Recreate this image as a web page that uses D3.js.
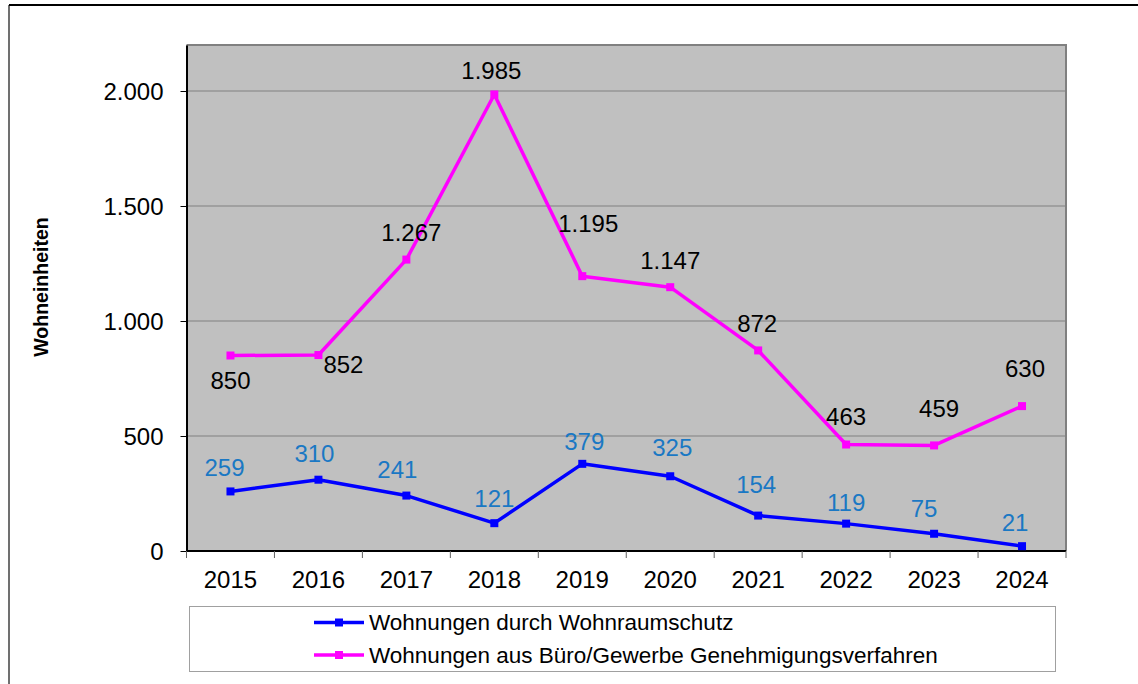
<!DOCTYPE html>
<html>
<head>
<meta charset="utf-8">
<script src="https://cdn.jsdelivr.net/npm/d3@7"></script>
<style>
    body { margin: 0; background: #fff; }
    text { font-family: Arial, "Liberation Sans", sans-serif; }
</style>
</head>
<body>
<svg id="chart" width="1138" height="684"></svg>
<script>
const years = ["2015", "2016", "2017", "2018", "2019", "2020", "2021", "2022", "2023", "2024"];
const wohnraumschutz = [259, 310, 241, 121, 379, 325, 154, 119, 75, 21];
const bueroGewerbe = [850, 852, 1267, 1985, 1195, 1147, 872, 463, 459, 630];
const yTicks = [0, 500, 1000, 1500, 2000];
const seriesNames = ["Wohnungen durch Wohnraumschutz", "Wohnungen aus Büro/Gewerbe Genehmigungsverfahren"];
const yTitle = "Wohneinheiten";

// label nudges (px) like the hand placed labels in the original
const blueLabelShift = [[-6, -24], [-4, -26], [-9, -26], [0, -25], [2, -22], [2, -29], [-2, -31], [0, -21], [-10, -25], [-7, -24]];
const pinkLabelShift = [[0, 25], [25, 10], [5, -27], [-3, -24], [6, -53], [0, -27], [-1, -27], [0, -28], [5, -37], [3, -38]];

const de = d3.formatLocale({ decimal: ",", thousands: ".", grouping: [3], currency: ["", " €"] });
const fmt = de.format(",d");

const svg = d3.select("#chart");

// outer frame (only left + top edge are in view)
svg.append("line").attr("x1", 9).attr("y1", 5).attr("x2", 9).attr("y2", 684)
    .attr("stroke", "#404040").attr("stroke-width", 1.5);
svg.append("line").attr("x1", 9).attr("y1", 5).attr("x2", 1138).attr("y2", 5)
    .attr("stroke", "#000").attr("stroke-width", 2);

const pLeft = 186.5, pRight = 1066, pTop = 45, pBottom = 551;

const x = d3.scaleBand().domain(years).range([pLeft, pRight]).padding(0);
const y = d3.scaleLinear().domain([0, 2200]).range([pBottom, pTop]);
const cx = d => x(d) + x.bandwidth() / 2;

// plot area
svg.append("rect").attr("x", pLeft).attr("y", pTop)
    .attr("width", pRight - pLeft).attr("height", pBottom - pTop)
    .attr("fill", "#c0c0c0");

// gridlines
svg.append("g").selectAll("line").data(yTicks.filter(t => t > 0)).enter().append("line")
    .attr("x1", pLeft).attr("x2", pRight)
    .attr("y1", d => y(d)).attr("y2", d => y(d))
    .attr("stroke", "#808080").attr("stroke-width", 1);

// top and right border
svg.append("path")
    .attr("d", "M" + pLeft + "," + pTop + "H" + pRight + "V" + pBottom)
    .attr("fill", "none").attr("stroke", "#808080").attr("stroke-width", 2);

// y axis
const yAxis = d3.axisLeft(y).tickValues(yTicks).tickFormat(fmt).tickSize(6).tickSizeOuter(0).tickPadding(17);
const yg = svg.append("g").attr("transform", "translate(" + pLeft + ",0)").call(yAxis);
yg.select(".domain").attr("stroke", "#000").attr("stroke-width", 2);
yg.selectAll(".tick line").attr("stroke", "#000");
yg.selectAll(".tick text").style("font-size", "24px").attr("fill", "#000").attr("dy", "0.35em");

// x axis, ticks on the category borders
const xg = svg.append("g").attr("transform", "translate(0," + pBottom + ")");
xg.append("line").attr("x1", pLeft).attr("x2", pRight).attr("stroke", "#000").attr("stroke-width", 2);
xg.selectAll(".xt").data(years.concat(["end"])).enter().append("line")
    .attr("class", "xt")
    .attr("x1", (d, i) => pLeft + i * x.bandwidth()).attr("x2", (d, i) => pLeft + i * x.bandwidth())
    .attr("y1", 0).attr("y2", 7)
    .attr("stroke", "#606060").attr("stroke-width", 1);
xg.selectAll(".xl").data(years).enter().append("text")
    .attr("class", "xl")
    .attr("x", d => cx(d)).attr("y", 37)
    .attr("text-anchor", "middle")
    .style("font-size", "24px")
    .text(d => d);

// y title
svg.append("text")
    .attr("transform", "translate(48,287) rotate(-90)")
    .attr("text-anchor", "middle")
    .style("font-size", "19.5px").style("font-weight", "bold")
    .text(yTitle);

const line = d3.line().x((d, i) => cx(years[i])).y(d => y(d));

function drawSeries(values, color, labelColor, shifts) {
    const g = svg.append("g");
    g.append("path").datum(values)
        .attr("d", line)
        .attr("fill", "none").attr("stroke", color).attr("stroke-width", 3.5)
        .attr("stroke-linejoin", "round");
    g.selectAll("rect").data(values).enter().append("rect")
        .attr("x", (d, i) => cx(years[i]) - 4).attr("y", d => y(d) - 4)
        .attr("width", 8).attr("height", 8)
        .attr("fill", color);
    g.selectAll("text").data(values).enter().append("text")
        .attr("x", (d, i) => cx(years[i]) + shifts[i][0])
        .attr("y", (d, i) => y(d) + shifts[i][1])
        .attr("dy", "0.35em")
        .attr("text-anchor", "middle")
        .style("font-size", "24px")
        .attr("fill", labelColor)
        .text(d => fmt(d));
}

drawSeries(bueroGewerbe, "#ff00ff", "#000", pinkLabelShift);
drawSeries(wohnraumschutz, "#0000ff", "#1a78c4", blueLabelShift);

// legend
const lg = svg.append("g");
lg.append("rect").attr("x", 189.5).attr("y", 606.5).attr("width", 866).attr("height", 65)
    .attr("fill", "#fff").attr("stroke", "#a0a0a0").attr("stroke-width", 1);
const legendColors = ["#0000ff", "#ff00ff"];
seriesNames.forEach(function (name, i) {
    let ly = 622.5 + i * 32.5;
    lg.append("line").attr("x1", 314).attr("x2", 364).attr("y1", ly).attr("y2", ly)
        .attr("stroke", legendColors[i]).attr("stroke-width", 3.5);
    lg.append("rect").attr("x", 335).attr("y", ly - 4).attr("width", 8).attr("height", 8)
        .attr("fill", legendColors[i]);
    lg.append("text").attr("x", 369).attr("y", ly).attr("dy", "0.35em")
        .style("font-size", "22.5px")
        .text(name);
});
</script>
</body>
</html>
